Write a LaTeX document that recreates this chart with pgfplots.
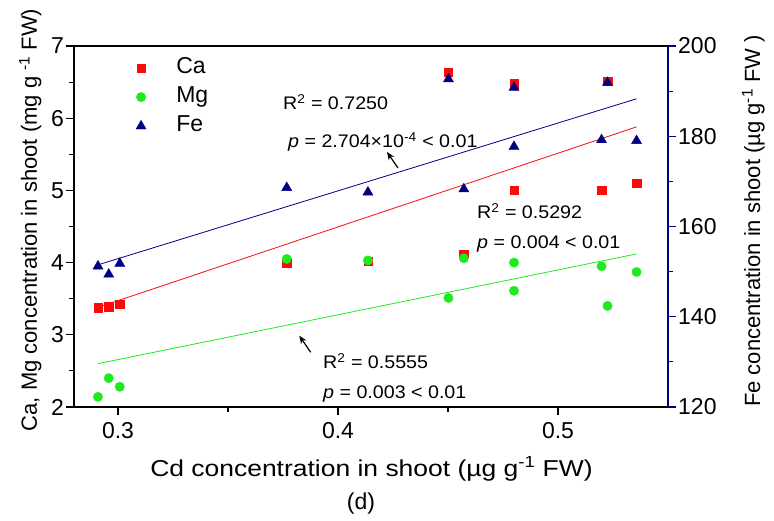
\documentclass[border=0pt]{standalone}
\usepackage{pgfplots}
\pgfplotsset{compat=1.18}
\usepackage{pgfplotstable}
\usepackage{fontspec}
\setmainfont{Liberation Sans}
\newfontfamily\xstretch{Liberation Sans}[FakeStretch=1.15]
\newfontfamily\astretch{Liberation Sans}[FakeStretch=1.08]
\usetikzlibrary{arrows.meta}
\definecolor{myred}{RGB}{250,10,10}
\definecolor{mygreen}{RGB}{30,235,30}
\definecolor{mynavy}{RGB}{0,0,128}

\pgfplotstableread{
x ca mg fe
0.2909 3.375 2.14 151.2
0.2958 3.39 2.40 149.4
0.3008 3.42 2.28 151.8
0.3767 4.00 4.05 168.6
0.4136 4.02 4.03 167.6
0.4502 6.64 3.51 192.7
0.4572 4.12 4.06 168.3
0.4800 6.48 4.00 190.8
0.4800 5.00 3.61 177.7
0.5198 5.00 3.95 179.2
0.5225 6.51 3.40 191.9
0.5357 5.10 3.87 179.0
}\data

\pgfplotstableread{
x ca mg fe
0.2909 3.38 2.60 151.5
0.5357 5.88 4.12 188.3
}\fit

\newcommand{\tfont}{\fontsize{23bp}{27bp}\selectfont}
\newcommand{\afont}{\astretch\fontsize{18.2bp}{21bp}\selectfont}

\begin{document}
\begin{tikzpicture}
\begin{axis}[
  scale only axis, width=594bp, height=361bp,
  xmin=0.28, xmax=0.55, ymin=2, ymax=7,
  axis y line*=left,
  xtick={0.3,0.4,0.5}, minor xtick={0.35,0.45},
  ytick={2,3,4,5,6,7}, minor ytick={2.5,3.5,4.5,5.5,6.5},
  xtick pos=left, ytick pos=left,
  tick align=outside,
  major tick length=8bp, minor tick length=4.5bp,
  axis line style={line width=1.2bp},
  every tick/.style={line width=1.1bp, black},
  tick label style={font=\tfont},
  /pgf/number format/assume math mode=true,
  xticklabel style={inner sep=0bp, yshift=-7bp},
  yticklabel style={inner sep=0bp, xshift=-2bp},
  legend style={draw=none, fill=none, at={(0.087,0.985)}, anchor=north west,
    font=\tfont, row sep=0bp,
    nodes={text height=16bp, text depth=5bp, inner sep=4bp}},
  legend cell align=left,
  legend image code/.code={\path (0bp,0bp) (43bp,0bp); \draw[#1] plot coordinates {(12bp,0bp)};},
]
\addplot[myred, line width=0.8bp, forget plot] table[x=x,y=ca] {\fit};
\addplot[mygreen, line width=0.8bp, forget plot] table[x=x,y=mg] {\fit};
\addplot[only marks, mark=square*, mark size=4.2bp, myred, mark options={draw=myred, fill=myred}] table[x=x,y=ca] {\data};
\addplot[only marks, mark=*, mark size=4.7bp, mygreen, mark options={draw=mygreen, fill=mygreen}] table[x=x,y=mg] {\data};
\addlegendimage{only marks, mark=triangle*, mark size=5.8bp, mynavy, mark options={draw=mynavy, fill=mynavy}}
\legend{Ca, Mg, Fe}
\end{axis}
\begin{axis}[
  scale only axis, width=594bp, height=361bp,
  xmin=0.28, xmax=0.55, ymin=120, ymax=200,
  axis y line*=right, axis x line=none,
  ytick={120,140,160,180,200}, minor ytick={130,150,170,190},
  tick align=outside,
  major tick length=8bp, minor tick length=4.5bp,
  y axis line style={line width=1.2bp, mynavy},
  every tick/.style={line width=1.1bp, mynavy},
  tick label style={font=\tfont},
  /pgf/number format/assume math mode=true,
  yticklabel style={inner sep=0bp, xshift=2bp},
]
\addplot[mynavy, line width=0.8bp] table[x=x,y=fe] {\fit};
\addplot[only marks, mark=triangle*, mark size=5.8bp, mynavy, mark options={draw=mynavy, fill=mynavy}] table[x=x,y=fe] {\data};
\end{axis}
\begin{scope}[x=1bp,y=-1bp,shift={(-74bp,407bp)}]
  \node[anchor=base west, inner sep=0pt, font=\afont] at (283,109.5) {R\textsuperscript{2} = 0.7250};
  \node[anchor=base west, inner sep=0pt, font=\afont] at (288,147.3) {\textit{p} = 2.704×10\textsuperscript{-4} < 0.01};
  \node[anchor=base west, inner sep=0pt, font=\afont] at (477,218.3) {R\textsuperscript{2} = 0.5292};
  \node[anchor=base west, inner sep=0pt, font=\afont] at (477,248.3) {\textit{p} = 0.004 < 0.01};
  \node[anchor=base west, inner sep=0pt, font=\afont] at (323,368.3) {R\textsuperscript{2} = 0.5555};
  \node[anchor=base west, inner sep=0pt, font=\afont] at (323,399) {\textit{p} = 0.003 < 0.01};
  \draw[line width=1.2bp, -{Stealth[length=8bp,width=6.5bp]}] (398,168) -- (387,152);
  \draw[line width=1.2bp, -{Stealth[length=8bp,width=6.5bp]}] (310.7,352.3) -- (299.3,335.7);
  \node[anchor=base, inner sep=0pt, font=\xstretch\fontsize{23bp}{27bp}\selectfont] at (371.5,476.7) {Cd concentration in shoot (µg g\textsuperscript{-1} FW)};
  \node[anchor=base, inner sep=0pt, font=\tfont] at (361,510) {(d)};
  \node[anchor=base, rotate=90, inner sep=0pt, font=\fontsize{22bp}{26bp}\selectfont] at (37,220) {Ca, Mg concentration in shoot (mg g \textsuperscript{-1} FW)};
  \node[anchor=base, rotate=90, inner sep=0pt, font=\fontsize{22bp}{26bp}\selectfont] at (760,221) {Fe concentration in shoot (µg g\textsuperscript{-1} FW )};
\end{scope}
\pgfresetboundingbox
\useasboundingbox (-74bp,-114bp) rectangle (700bp,407bp);
\end{tikzpicture}
\end{document}
